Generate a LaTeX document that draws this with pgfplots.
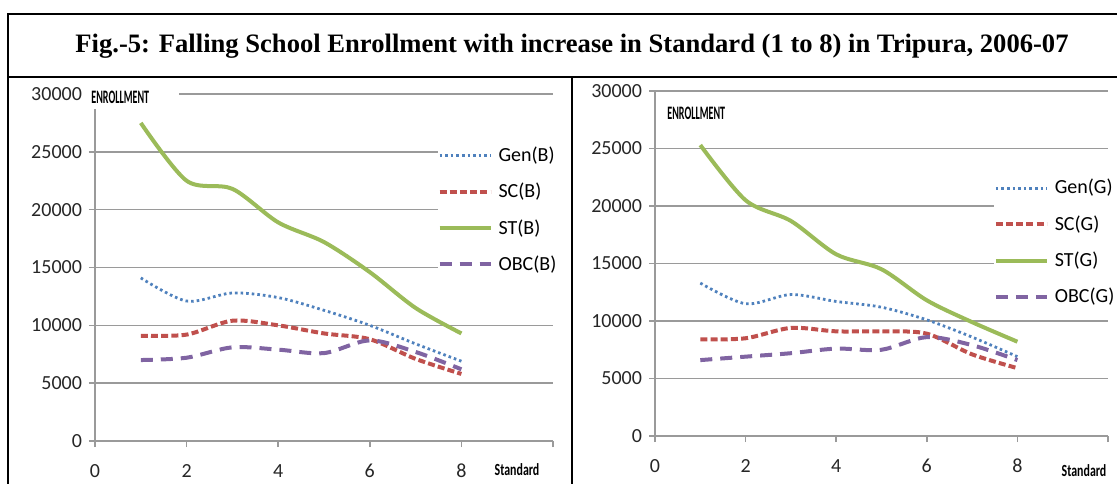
\documentclass[border=0pt]{standalone}
\usepackage{pgfplots}
\pgfplotsset{compat=1.18}
\usepackage{graphicx}
\usepackage{fontspec}
\setmainfont{Carlito}
\newfontfamily\titlefont{Liberation Serif}
\definecolor{cgen}{HTML}{4F81BD}
\definecolor{csc}{HTML}{C0504D}
\definecolor{cst}{HTML}{9BBB59}
\definecolor{cobc}{HTML}{8064A2}
\definecolor{cgrid}{HTML}{9A9A9A}
\pgfplotsset{
 panel/.style={
  scale only axis, xmin=0, xmax=10, ymin=0, ymax=30000,
  axis x line*=bottom, axis y line*=left,
  axis line style={cgrid, line width=0.8pt, -},
  ymajorgrids, grid style={cgrid, line width=0.75pt},
  ytick={0,5000,...,30000}, xtick={0,2,...,10}, xticklabels={0,2,4,6,8,{}},
  scaled y ticks=false,
  /pgf/number format/1000 sep={},
  /pgf/number format/assume math mode=true,
  tick label style={font=\fontsize{10}{12}\selectfont, text=black!85},
  major tick length=3pt, tick align=outside,
  tick style={cgrid, line width=0.75pt},
  xticklabel style={anchor=center, yshift=-12pt},
  legend cell align=left,
  legend style={draw=none, fill=white, inner sep=0pt, row sep=5.3pt,
    font=\fontsize{10}{12}\selectfont, anchor=north west,
    /tikz/every odd column/.style={column sep=1pt}},
  legend image code/.code={\draw[#1] (0pt,0pt) -- (25.5pt,0pt);},
 },
 gen/.style={cgen, line width=1.4pt, dash pattern=on 1.3pt off 1.5pt, smooth},
 sc/.style={csc, line width=2pt, dash pattern=on 3.5pt off 1.6pt, smooth},
 st/.style={cst, line width=2pt, smooth},
 obc/.style={cobc, line width=2pt, dash pattern=on 6pt off 4pt, smooth},
}
\begin{document}
\begin{tikzpicture}[x=0.5pt,y=0.5pt]
\useasboundingbox (0,0) rectangle (1117,483);
% left panel (Boys)
\begin{axis}[panel, at={(47.5pt,21pt)}, anchor=south west, width=229pt, height=173.5pt,
  legend style={at={(axis cs:7.47,25800)}}]
\addplot[gen] coordinates {(1,14100) (2,12100) (3,12800) (4,12400) (5,11300) (6,10000) (7,8400) (8,6900)};
\addplot[sc] coordinates {(1,9100) (2,9200) (3,10400) (4,10000) (5,9300) (6,8800) (7,7100) (8,5800)};
\addplot[st] coordinates {(1,27500) (2,22500) (3,21800) (4,18900) (5,17200) (6,14600) (7,11500) (8,9300)};
\addplot[obc] coordinates {(1,7000) (2,7200) (3,8100) (4,7900) (5,7600) (6,8700) (7,7700) (8,6200)};
\legend{Gen(B),SC(B),ST(B),OBC(B)}
\end{axis}
% right panel (Girls)
\begin{axis}[panel, at={(327.5pt,23.5pt)}, anchor=south west, width=226.5pt, height=172.5pt,
  legend style={at={(axis cs:7.47,22700)}}]
\addplot[gen] coordinates {(1,13300) (2,11500) (3,12300) (4,11700) (5,11200) (6,10100) (7,8600) (8,6900)};
\addplot[sc] coordinates {(1,8400) (2,8500) (3,9400) (4,9100) (5,9100) (6,8900) (7,7100) (8,5900)};
\addplot[st] coordinates {(1,25300) (2,20500) (3,18700) (4,15800) (5,14500) (6,11800) (7,9900) (8,8200)};
\addplot[obc] coordinates {(1,6600) (2,6900) (3,7200) (4,7600) (5,7500) (6,8600) (7,7900) (8,6600)};
\legend{Gen(G),SC(G),ST(G),OBC(G)}
\end{axis}
% axis labels
\fill[white] (86,374) rectangle (179,398);
\node[anchor=west, inner sep=0pt] at (91,386) {\scalebox{0.53}[1]{\fontsize{9.5}{9.5}\selectfont\bfseries ENROLLMENT}};
\node[anchor=west, inner sep=0pt] at (667,370) {\scalebox{0.53}[1]{\fontsize{9.5}{9.5}\selectfont\bfseries ENROLLMENT}};
\node[inner sep=0pt] at (517,13) {\scalebox{0.7}[1]{\fontsize{8.5}{8.5}\selectfont\bfseries Standard}};
\node[inner sep=0pt] at (1084,12) {\scalebox{0.7}[1]{\fontsize{8.5}{8.5}\selectfont\bfseries Standard}};
% frame
\draw[line width=1.1pt] (8,-5) -- (8,469) -- (1125,469);
\draw[line width=1.1pt] (8,406) -- (1125,406);
\draw[line width=1.1pt] (572,406) -- (572,-5);
\node at (572,437) {\titlefont\bfseries\fontsize{13.3}{15}\selectfont Fig.-5: Falling School Enrollment with increase in Standard (1 to 8) in Tripura, 2006-07};
\end{tikzpicture}
\end{document}
